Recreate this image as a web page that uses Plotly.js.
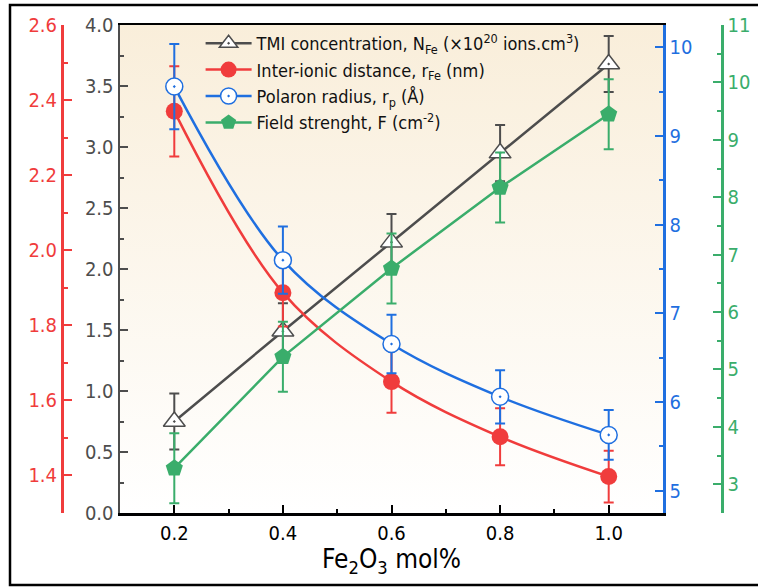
<!DOCTYPE html>
<html>
<head>
<meta charset="utf-8">
<script src="https://cdn.plot.ly/plotly-3.0.1.min.js"></script>
<style>
html,body{margin:0;padding:0;background:#fff;}
#chart{width:758px;height:588px;}
</style>
</head>
<body>
<div id="chart"></div>
<script>
// ---- data ----
const fe2o3 = [0.2, 0.4, 0.6, 0.8, 1.0];
const tmiConc = [0.75, 1.49, 2.22, 2.95, 3.68];
const tmiErr = [0.23, 0.23, 0.23, 0.23, 0.23];
const interIonic = [2.37, 1.887, 1.65, 1.503, 1.397];
const interIonicErr = [0.12, 0.09, 0.083, 0.076, 0.069];
const polaron = [9.556, 7.60, 6.655, 6.06, 5.63];
const polaronErr = [0.48, 0.38, 0.33, 0.30, 0.28];
const field = [3.28, 5.22, 6.76, 8.17, 9.446];
const fieldErr = [0.61, 0.61, 0.61, 0.61, 0.61];

const names = [
  'TMI concentration, N<sub>Fe</sub> (×10<sup>20</sup> ions.cm<sup>3</sup>)',
  'Inter-ionic distance, r<sub>Fe</sub> (nm)',
  'Polaron radius, r<sub>p</sub> (Å)',
  'Field strenght, F (cm<sup>-2</sup>)'
];

const GRAY = '#4D4D4D', RED = '#F03C3C', BLUE = '#1F6FE0', GREEN = '#3AAD6B';
const FONT = '"DejaVu Sans Condensed", "DejaVu Sans", sans-serif';

function errs(arr, color){
  return {type:'data', array:arr, visible:true, color:color, thickness:2, width:5};
}

const traces = [
  {x:fe2o3, y:tmiConc, name:names[0], yaxis:'y', mode:'lines+markers',
   line:{color:GRAY, width:2.5},
   marker:{symbol:'triangle-up-dot', size:19, color:'#FFFFFF', line:{color:GRAY, width:1.5}},
   error_y:errs(tmiErr, GRAY)},
  {x:fe2o3, y:interIonic, name:names[1], yaxis:'y2', mode:'lines+markers',
   line:{color:RED, width:2.5, shape:'spline', smoothing:1},
   marker:{symbol:'circle', size:17, color:RED},
   error_y:errs(interIonicErr, RED)},
  {x:fe2o3, y:polaron, name:names[2], yaxis:'y3', mode:'lines+markers',
   line:{color:BLUE, width:2.5, shape:'spline', smoothing:1},
   marker:{symbol:'circle-dot', size:17, color:'#FFFFFF', line:{color:BLUE, width:1.5}},
   error_y:errs(polaronErr, BLUE)},
  {x:fe2o3, y:field, name:names[3], yaxis:'y4', mode:'lines+markers',
   line:{color:GREEN, width:2.5},
   marker:{symbol:'pentagon', size:18, color:GREEN},
   error_y:errs(fieldErr, GREEN)}
];

const bgSvg = "<svg xmlns='http://www.w3.org/2000/svg' width='100' height='100' preserveAspectRatio='none'>" +
  "<defs><linearGradient id='g' x1='0' y1='0' x2='0' y2='1'>" +
  "<stop offset='0' stop-color='#F9EEDA'/><stop offset='1' stop-color='#FFFFFF'/></linearGradient></defs>" +
  "<rect width='100' height='100' fill='url(#g)'/></svg>";
const bgUri = 'data:image/svg+xml;base64,' + btoa(bgSvg);

function yax(color, range, dtick, minor, fmt, extra){
  return Object.assign({
    range:range, dtick:dtick, tick0:0, tickformat:fmt,
    showgrid:false, zeroline:false, showline:true,
    linecolor:color, linewidth:2.5,
    ticks:'inside', ticklen:8, tickwidth:2, tickcolor:color,
    minor:{dtick:minor, tick0:0, ticks:'inside', ticklen:4, tickwidth:2, tickcolor:color, showgrid:false},
    tickfont:{family:FONT, size:20, color:color}
  }, extra);
}

const layout = {
  width:758, height:588,
  margin:{l:62, r:36, t:25, b:75},
  paper_bgcolor:'#FFFFFF', plot_bgcolor:'rgba(0,0,0,0)',
  font:{family:FONT, color:'#000'},
  showlegend:true,
  legend:{x:0.21, y:1.0, xanchor:'left', yanchor:'top', bgcolor:'rgba(0,0,0,0)',
    font:{family:FONT, size:18, color:'#111'}, itemwidth:46, tracegroupgap:0},
  xaxis:{domain:[58/660, 601/660], range:[0.1, 1.1], dtick:0.2, tick0:0.2, tickformat:'.1f',
    showgrid:false, zeroline:false, showline:true, mirror:true, linecolor:'#000', linewidth:2.5,
    ticks:'inside', ticklen:8, tickwidth:2, tickcolor:'#000',
    minor:{dtick:0.2, tick0:0.1, ticks:'inside', ticklen:4, tickwidth:2, tickcolor:'#000', showgrid:false},
    tickfont:{family:FONT, size:20, color:'#000'},
    title:{text:'Fe<sub>2</sub>O<sub>3</sub> mol%', font:{family:FONT, size:26, color:'#000'}, standoff:4}},
  yaxis:yax(GRAY, [0,4], 0.5, 0.25, '.1f', {side:'left', anchor:'x'}),
  yaxis2:yax(RED, [1.3,2.6], 0.2, 0.1, '.1f', {side:'left', anchor:'free', position:0, overlaying:'y'}),
  yaxis3:yax(BLUE, [4.75,10.25], 1, 0.5, 'd', {side:'right', anchor:'x', overlaying:'y'}),
  yaxis4:yax(GREEN, [2.5,11], 1, 0.5, 'd', {side:'right', anchor:'free', position:1, overlaying:'y'}),
  images:[{source:bgUri, xref:'x domain', yref:'y domain', x:0, y:1, sizex:1, sizey:1,
    xanchor:'left', yanchor:'top', sizing:'stretch', layer:'below'}],
  shapes:[{type:'rect', xref:'paper', yref:'paper',
    x0:(10-62)/660, x1:(761-62)/660, y0:(513-585)/488, y1:(513-5)/488,
    line:{color:'#000', width:2.5}, fillcolor:'rgba(0,0,0,0)', layer:'above'}]
};

Plotly.newPlot('chart', traces, layout, {displayModeBar:false, staticPlot:true});
</script>
</body>
</html>
